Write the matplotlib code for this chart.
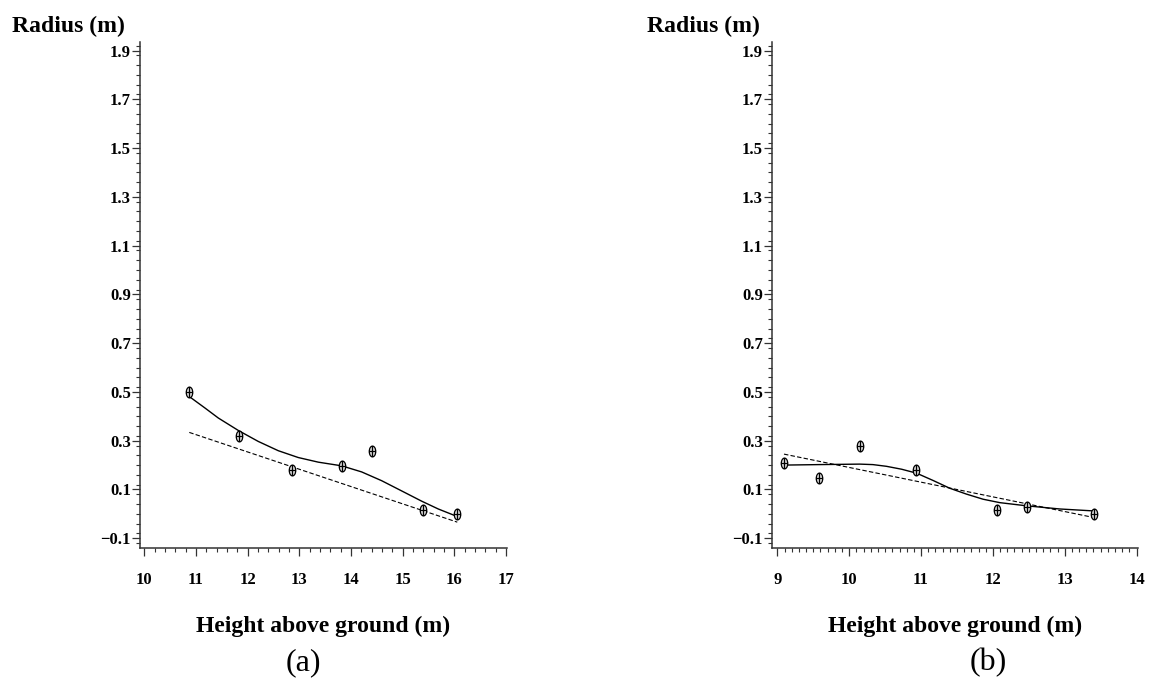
import matplotlib
matplotlib.use("Agg")
import matplotlib.pyplot as plt
from matplotlib.path import Path
from matplotlib.transforms import Affine2D
from matplotlib.ticker import MultipleLocator

# ---------------- data ----------------
# panel (a)
height_a = [10.87, 11.83, 12.86, 13.83, 14.41, 15.40, 16.06]
radius_a = [0.500, 0.318, 0.178, 0.197, 0.259, 0.016, 0.000]
fit_x_a = [10.865, 11.175, 11.433, 11.820, 12.206, 12.593, 12.980, 13.368,
           13.820, 14.207, 14.594, 14.982, 15.369, 15.690, 16.046]
fit_y_a = [0.482, 0.434, 0.393, 0.342, 0.297, 0.259, 0.231, 0.212,
           0.197, 0.172, 0.136, 0.094, 0.052, 0.020, -0.010]
lin_x_a = [10.871, 16.058]
lin_y_a = [0.334, -0.034]
xticks_a = [10, 11, 12, 13, 14, 15, 16, 17]
xticklabels_a = ['10', '11', '12', '13', '14', '15', '16', '17']

# panel (b)
height_b = [9.092, 9.575, 10.146, 10.936, 12.059, 12.468, 13.405]
radius_b = [0.208, 0.147, 0.279, 0.181, 0.016, 0.030, 0.000]
fit_x_b = [9.092, 9.575, 10.146, 10.330, 10.518, 10.730, 10.936, 11.167,
           11.400, 11.632, 11.864, 12.096, 12.468, 12.932, 13.405]
fit_y_b = [0.200, 0.202, 0.204, 0.202, 0.195, 0.183, 0.167, 0.137,
           0.105, 0.081, 0.060, 0.046, 0.033, 0.020, 0.012]
lin_x_b = [9.092, 13.405]
lin_y_b = [0.245, -0.015]
xticks_b = [9, 10, 11, 12, 13, 14]
xticklabels_b = ['9', '10', '11', '12', '13', '14']

yticks = [-0.1, 0.1, 0.3, 0.5, 0.7, 0.9, 1.1, 1.3, 1.5, 1.7, 1.9]
yticklabels = ['\u22120.1', '0.1', '0.3', '0.5', '0.7', '0.9',
               '1.1', '1.3', '1.5', '1.7', '1.9']

ylabel_text = 'Radius (m)'
xlabel_text = 'Height above ground (m)'
captions = ['(a)', '(b)']

# ---------------- style ----------------
W, H = 1151, 689
fig = plt.figure(figsize=(W / 100, H / 100), dpi=100)

# marker: vertical ellipse with a cross
ell = Path.unit_circle().transformed(Affine2D().scale(0.6, 1.0))
vline = Path([(0, -1), (0, 1)], [Path.MOVETO, Path.LINETO])
hline = Path([(-0.6, 0), (0.6, 0)], [Path.MOVETO, Path.LINETO])
mk = Path.make_compound_path(ell, vline, hline)

SERIF = ['Liberation Serif', 'DejaVu Serif']
spine_col = '#333333'


def px(x0, y0, x1, y1):
    return [x0 / W, 1 - y1 / H, (x1 - x0) / W, (y1 - y0) / H]


def make_panel(rect, hx, ry, fx, fy, lx, ly, xlim, xt, xtl, xminor):
    ax = fig.add_axes(rect)
    ax.plot(lx, ly, color='black', lw=0.8, ls=(0, (4, 2)))
    ax.plot(fx, fy, color='black', lw=1.0, solid_joinstyle='round')
    ax.plot(hx, ry, ls='none', marker=mk, markersize=7.8,
            markerfacecolor='#dcdcdc', markeredgecolor='black',
            markeredgewidth=0.9)
    ax.set_xlim(*xlim)
    ax.set_ylim(-0.140, 1.935)
    for s in ['top', 'right']:
        ax.spines[s].set_visible(False)
    for s in ['left', 'bottom']:
        ax.spines[s].set_color(spine_col)
        ax.spines[s].set_linewidth(1.1)
    ax.set_xticks(xt)
    ax.set_xticklabels(xtl)
    ax.set_yticks(yticks)
    ax.set_yticklabels(yticklabels)
    ax.xaxis.set_minor_locator(MultipleLocator(xminor))
    ax.yaxis.set_minor_locator(MultipleLocator(0.04))
    ax.tick_params(axis='both', which='major', direction='out', length=5.5,
                   width=0.9, color=spine_col)
    ax.tick_params(axis='both', which='minor', direction='out', length=3,
                   width=0.8, color=spine_col)
    ax.tick_params(axis='x', which='major', pad=12)
    ax.tick_params(axis='y', which='major', pad=1)
    for lab in ax.get_xticklabels() + ax.get_yticklabels():
        lab.set_fontfamily(SERIF)
        lab.set_fontweight('bold')
        lab.set_fontsize(12)
    return ax


ax1 = make_panel(px(140, 42, 507, 548), height_a, radius_a, fit_x_a, fit_y_a,
                 lin_x_a, lin_y_a, (9.917, 17.02), xticks_a, xticklabels_a, 0.2)
ax2 = make_panel(px(772, 42, 1138, 548), height_b, radius_b, fit_x_b, fit_y_b,
                 lin_x_b, lin_y_b, (8.925, 14.02), xticks_b, xticklabels_b, 0.1)

# y labels (horizontal, top left of each axis)
fig.text(12 / W, 1 - 32 / H, ylabel_text, ha='left', va='baseline',
         fontsize=17, fontweight='bold', family=SERIF)
fig.text(647 / W, 1 - 32 / H, ylabel_text, ha='left', va='baseline',
         fontsize=17, fontweight='bold', family=SERIF)

# x labels
fig.text(323.5 / W, 1 - 632 / H, xlabel_text, ha='center', va='baseline',
         fontsize=17, fontweight='bold', family=SERIF)
fig.text(955 / W, 1 - 632 / H, xlabel_text, ha='center', va='baseline',
         fontsize=17, fontweight='bold', family=SERIF)

# captions
fig.text(303 / W, 1 - 662.5 / H, captions[0], ha='center', va='center',
         fontsize=23, family=SERIF)
fig.text(988 / W, 1 - 662.5 / H, captions[1], ha='center', va='center',
         fontsize=23, family=SERIF)

fig.savefig('out.png', dpi=100)
